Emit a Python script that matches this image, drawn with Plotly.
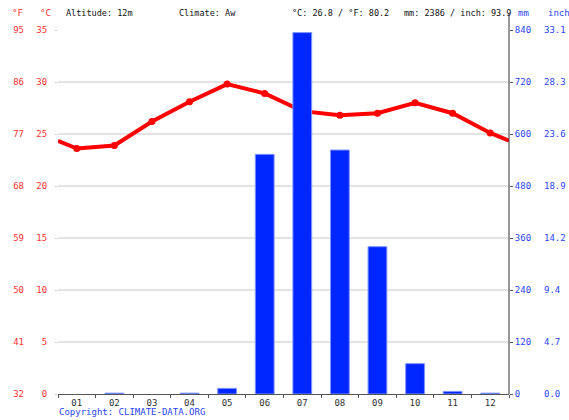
import plotly.graph_objects as go

months = ["01", "02", "03", "04", "05", "06", "07", "08", "09", "10", "11", "12"]
temp_c = [23.6, 23.9, 26.2, 28.1, 29.8, 28.9, 27.2, 26.8, 27.0, 28.0, 27.0, 25.1]
precip_mm = [0, 2, 0, 2, 13, 553, 834, 563, 340, 70, 6, 2]

c_ticks = [0, 5, 10, 15, 20, 25, 30, 35]
f_ticks = [32, 41, 50, 59, 68, 77, 86, 95]
mm_ticks = [0, 120, 240, 360, 480, 600, 720, 840]
inch_labels = ["0.0", "4.7", "9.4", "14.2", "18.9", "23.6", "28.3", "33.1"]

header_left = "Altitude: 12m"
header_climate = "Climate: Aw"
header_temp = "°C: 26.8 / °F: 80.2"
header_precip = "mm: 2386 / inch: 93.9"

W, H = 569, 420
L, R, T, B = 58, 509, 30, 394
FONT = "DejaVu Sans Mono"
RED = "#ff3030"
BLUE = "#2a44ff"


def px(xp):
    return xp / W


def py(yp):
    return (H - yp) / H


x = list(range(1, 13))
edge = (temp_c[0] + temp_c[-1]) / 2

fig = go.Figure()
fig.add_trace(go.Bar(
    x=x, y=precip_mm, yaxis="y2", width=0.5,
    marker=dict(color="#0026ff",
                line=dict(color="#7f95ff", width=[0 if v == 0 else 1 for v in precip_mm])),
    showlegend=False, hoverinfo="skip",
))
fig.add_trace(go.Scatter(
    x=[0.5] + x + [12.5], y=[edge] + temp_c + [edge],
    mode="lines", line=dict(color="#ff0000", width=4),
    showlegend=False, hoverinfo="skip",
))
fig.add_trace(go.Scatter(
    x=x, y=temp_c, mode="markers",
    marker=dict(color="#ff0000", size=7),
    showlegend=False, hoverinfo="skip",
))
fig.add_trace(go.Scatter(x=[None], y=[None], yaxis="y3", showlegend=False))
fig.add_trace(go.Scatter(x=[None], y=[None], yaxis="y4", showlegend=False))

xd = [px(L), px(R)]
yd = [py(B), py(T)]

fig.update_layout(
    width=W, height=H,
    margin=dict(l=0, r=0, t=0, b=0),
    paper_bgcolor="white", plot_bgcolor="white",
    font=dict(family=FONT, size=9, color="#333"),
    bargap=0,
    hovermode=False,
    xaxis=dict(
        domain=xd, range=[0.5, 12.5], tickvals=x, ticktext=months,
        ticks="", showgrid=False, zeroline=False,
        showline=True, linecolor="#555", linewidth=1,
        tickfont=dict(color="#333", size=9), automargin=False,
        minor=dict(tickvals=[i + 0.5 for i in range(0, 13)], ticks="outside",
                   ticklen=3, tickcolor="#555", showgrid=False),
    ),
    yaxis=dict(
        domain=yd, range=[0, 35], tickvals=c_ticks,
        showgrid=True, gridcolor="#e3e3e3", gridwidth=1.5, zeroline=False,
        ticks="outside", ticklen=2, tickcolor="#cccccc",
        tickfont=dict(color=RED, size=9), automargin=False,
        ticklabelstandoff=6,
    ),
    yaxis2=dict(
        domain=yd, range=[0, 840], tickvals=mm_ticks, overlaying="y", side="right",
        anchor="x", showgrid=False, zeroline=False, showline=False,
        ticks="outside", ticklen=3, tickcolor="#555",
        tickfont=dict(color=BLUE, size=9), automargin=False,
    ),
    yaxis3=dict(
        domain=yd, range=[32, 95], tickvals=f_ticks, overlaying="y", side="left",
        anchor="free", position=px(24), showgrid=False, zeroline=False,
        showline=False, ticks="",
        tickfont=dict(color=RED, size=9), automargin=False,
    ),
    yaxis4=dict(
        domain=yd, range=[0, 840], tickvals=mm_ticks, ticktext=inch_labels,
        overlaying="y", side="right",
        anchor="free", position=px(543), showgrid=False, zeroline=False,
        showline=False, ticks="",
        tickfont=dict(color=BLUE, size=9), automargin=False,
    ),
)

fig.add_shape(type="line", xref="paper", yref="paper",
              x0=px(R), x1=px(R), y0=py(B), y1=py(13),
              line=dict(color="#333", width=1))


def ann(text, xp, yp, color, size=8.5):
    fig.add_annotation(text=text, xref="paper", yref="paper",
                       x=px(xp), y=py(yp), xanchor="left", yanchor="middle",
                       showarrow=False, font=dict(family=FONT, size=size, color=color))


ann("°F", 10, 13, RED, 9)
ann("°C", 38, 13, RED, 9)
ann(header_left, 64, 13, "#111")
ann(header_climate, 177, 13, "#111")
ann(header_temp, 290, 13, "#111")
ann(header_precip, 402, 13, "#111")
ann("mm", 516, 13, BLUE, 9)
ann("inch", 546, 13, BLUE, 9)
ann("Copyright: CLIMATE-DATA.ORG", 57, 412, BLUE, 9)

fig.write_html(
    "out.html",
    config={"displayModeBar": False, "staticPlot": True},
    post_script="document.body.style.margin='0';document.body.style.overflow='hidden';",
)
